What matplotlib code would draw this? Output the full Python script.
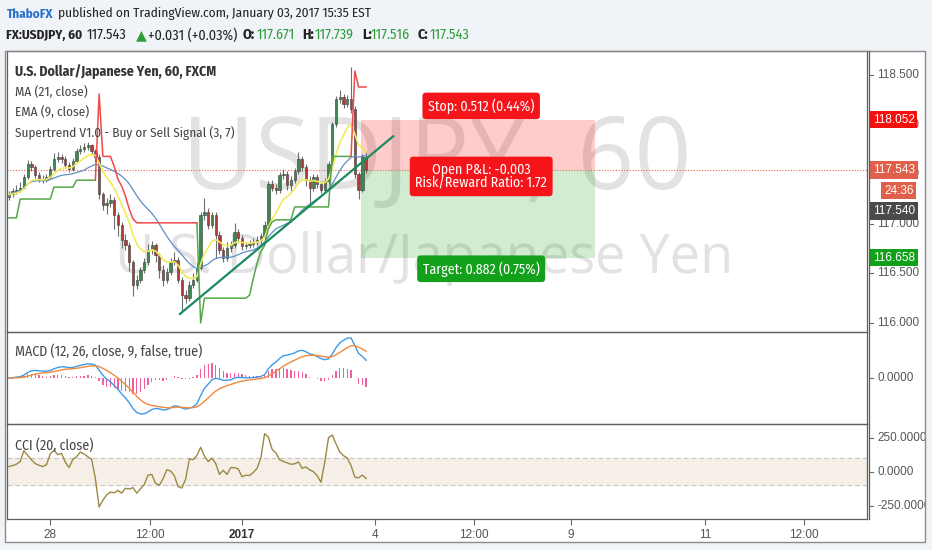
import numpy as np
import pandas as pd
import matplotlib.pyplot as plt
import matplotlib.transforms as mtrans
from matplotlib.patches import Rectangle

plt.rcParams['font.family'] = ['Fira Sans Condensed', 'Open Sans', 'DejaVu Sans']

# FX:USDJPY 60 min bars
opens = [117.270, 117.296, 117.326, 117.346, 117.366, 117.468, 117.599, 117.569, 117.488, 117.447,
         117.437, 117.468, 117.549, 117.650, 117.670, 117.650, 117.589, 117.549, 117.630, 117.731,
         117.751, 117.771, 117.792, 117.731, 117.670, 117.296, 117.194, 117.215, 117.245, 117.093,
         116.992, 116.840, 116.789, 116.617, 116.385, 116.435, 116.536, 116.617, 116.739, 116.789,
         116.688, 116.536, 116.435, 116.516, 116.617, 116.638, 116.435, 116.283, 116.253, 116.385,
         116.435, 116.557, 117.093, 117.124, 116.992, 117.093, 116.891, 116.739, 116.658, 116.759,
         116.789, 116.921, 116.860, 116.779, 116.789, 116.800, 116.820, 116.840, 116.881, 116.992,
         117.397, 117.366, 117.346, 117.488, 117.498, 117.387, 117.447, 117.528, 117.650, 117.569,
         117.447, 117.366, 117.468, 117.397, 117.346, 117.427, 117.599, 118.004, 118.257, 118.277,
         118.206, 118.257, 118.156, 117.498, 117.346, 117.671]
highs = [117.33, 117.36, 117.39, 117.42, 117.50, 117.64, 117.63, 117.59, 117.52, 117.49,
         117.50, 117.58, 117.71, 117.72, 117.70, 117.68, 117.62, 117.66, 117.76, 117.80,
         117.82, 117.83, 117.81, 117.75, 117.70, 117.32, 117.26, 117.30, 117.27, 117.12,
         117.02, 116.90, 116.82, 116.64, 116.48, 116.56, 116.66, 116.80, 116.83, 116.81,
         116.71, 116.58, 116.55, 116.66, 116.72, 116.67, 116.46, 116.33, 116.42, 116.50,
         116.62, 117.12, 117.26, 117.16, 117.12, 117.12, 116.93, 116.77, 116.82, 116.83,
         117.01, 116.95, 116.89, 116.82, 116.84, 116.86, 116.88, 116.91, 117.03, 117.43,
         117.44, 117.40, 117.52, 117.55, 117.53, 117.48, 117.56, 117.72, 117.68, 117.60,
         117.48, 117.50, 117.50, 117.43, 117.46, 117.63, 118.03, 118.29, 118.35, 118.31,
         118.30, 118.58, 118.19, 117.52, 117.70, 117.739]
lows = [117.24, 117.27, 117.30, 117.32, 117.35, 117.45, 117.53, 117.46, 117.42, 117.41,
        117.42, 117.45, 117.53, 117.62, 117.61, 117.56, 117.52, 117.53, 117.61, 117.70,
        117.72, 117.74, 117.70, 117.62, 117.25, 117.14, 117.10, 117.17, 116.95, 116.88,
        116.76, 116.74, 116.52, 116.27, 116.34, 116.40, 116.50, 116.58, 116.70, 116.62,
        116.45, 116.37, 116.40, 116.48, 116.58, 116.40, 116.11, 116.20, 116.22, 116.35,
        116.41, 116.53, 117.04, 116.95, 116.96, 116.66, 116.70, 116.61, 116.63, 116.72,
        116.76, 116.82, 116.74, 116.75, 116.76, 116.77, 116.79, 116.80, 116.85, 116.96,
        117.33, 117.30, 117.31, 117.45, 117.34, 117.33, 117.41, 117.50, 117.53, 117.38,
        117.20, 117.33, 117.36, 117.31, 117.32, 117.40, 117.57, 117.98, 118.22, 118.17,
        118.18, 118.12, 117.46, 117.25, 117.32, 117.516]
closes = [117.296, 117.326, 117.346, 117.366, 117.468, 117.599, 117.569, 117.488, 117.447, 117.437,
          117.468, 117.549, 117.650, 117.670, 117.650, 117.589, 117.549, 117.630, 117.731, 117.751,
          117.771, 117.792, 117.731, 117.670, 117.296, 117.194, 117.215, 117.245, 117.093, 116.992,
          116.840, 116.789, 116.617, 116.385, 116.435, 116.536, 116.617, 116.739, 116.789, 116.688,
          116.536, 116.435, 116.516, 116.617, 116.638, 116.435, 116.283, 116.253, 116.385, 116.435,
          116.557, 117.093, 117.124, 116.992, 117.093, 116.891, 116.739, 116.658, 116.759, 116.789,
          116.921, 116.860, 116.779, 116.789, 116.800, 116.820, 116.840, 116.881, 116.992, 117.397,
          117.366, 117.346, 117.488, 117.498, 117.387, 117.447, 117.528, 117.650, 117.569, 117.447,
          117.366, 117.468, 117.397, 117.346, 117.427, 117.599, 118.004, 118.257, 118.277, 118.206,
          118.257, 118.156, 117.498, 117.346, 117.671, 117.543]

# Supertrend (3, 7) levels, None where the other side is active
st_up = ([117.06] * 3 + [117.25] * 9 + [117.37] * 6 + [117.44] * 6 + [None] * 26
         + [117.01, 116.00] + [116.25] * 12
         + [116.28, 116.45, 116.60, 116.72, 116.78, 116.95, 117.02]
         + [117.04] * 5 + [117.17] * 10 + [117.68] * 6 + [None] * 4)
st_down = ([None] * 23 + [117.44, 118.31] + [117.68] * 3
           + [117.58, 117.45, 117.38, 117.28, 117.15, 117.05] + [117.01] * 17
           + [None] * 40 + [117.68, 118.54] + [118.38] * 3)

# CCI (20, close)
cci = [38, 45, 55, 74, 155, 120, 88, 60, 47, 38,
       52, 130, 158, 125, 135, 70, 30, 90, 110, 145,
       130, 110, 92, -50, -260, -210, -170, -150, -155, -138,
       -158, -122, -128, -117, -158, -125, -95, -25, -20, -85,
       -100, -52, 15, 5, -30, -110, -120, -55, 95, 88,
       120, 180, 115, 75, 100, 60, -20, 10, -20, 30,
       30, 20, -37, -26, -28, -5, 25, 100, 280, 255,
       165, 138, 88, 76, 65, 55, 58, 72, 25, 35,
       14, 0, -30, -78, 70, 250, 270, 205, 145, 118,
       100, 45, -40, -45, -25, -50]

trend_x = [45.5, 102.2]
trend_y = [116.091, 117.883]

entry_price = 117.543
stop_price = 118.052
target_price = 116.658
pos_start, pos_end = 93.6, 155.9
label_x = 125.6
last_bar_price = 117.540
timer_text = '24:36'

price_ticks = [118.5, 118.0, 117.5, 117.0, 116.5, 116.0]
xtick_pos = [10.9, 37.5, 62.0, 97.4, 123.7, 149.5, 185.1, 211.5]
xtick_labels = ['28', '12:00', '2017', '4', '12:00', '9', '11', '12:00']

# indicators
c = pd.Series(closes)
ema9 = c.ewm(span=9, adjust=False).mean()
ma21 = c.rolling(21, min_periods=1).mean()
macd = c.ewm(span=12, adjust=False).mean() - c.ewm(span=26, adjust=False).mean()
signal = macd.ewm(span=9, adjust=False).mean()
hist = macd - signal

W, H = 932, 550
fig = plt.figure(figsize=(W / 100, H / 100), dpi=100)
fig.patch.set_facecolor('#f0f3f8')


def fax(x0, y0, x1, y1, **kw):
    return fig.add_axes([x0 / W, 1 - y1 / H, (x1 - x0) / W, (y1 - y0) / H], **kw)


bg = fax(0, 0, W, H, zorder=-5)
bg.set_xlim(0, W); bg.set_ylim(H, 0); bg.axis('off')
bg.add_patch(Rectangle((5, 51), 920, 491, fc='white', ec='none'))
bg.text(437, 163, 'USDJPY, 60', fontsize=72, color='#e2e2e2', ha='center', va='center',
        family=['Open Sans', 'DejaVu Sans'])
bg.text(424, 259, 'U.S. Dollar/Japanese Yen', fontsize=39, color='#e2e2e2', ha='center', va='center',
        family=['Open Sans', 'DejaVu Sans'])

LEFT, RIGHT = 7, 867
ax = fax(LEFT, 51, RIGHT, 332)
ax_m = fax(LEFT, 332, RIGHT, 424, sharex=ax)
ax_c = fax(LEFT, 424, RIGHT, 519, sharex=ax)
for a in (ax, ax_m, ax_c):
    a.set_facecolor('none')
    for s in a.spines.values():
        s.set_color('#5e5e5e'); s.set_linewidth(0.9)
    a.tick_params(left=False, labelleft=False, bottom=False, labelbottom=False)
    a.set_yticks([])

x = np.arange(len(closes))
ax.set_xlim(-0.5, 228.2)
ax.set_ylim(115.909, 118.743)

o = np.array(opens); hi = np.array(highs); lo = np.array(lows); cl = np.array(closes)
up = cl >= o
ax.vlines(x, lo, hi, color='#6e6e6e', lw=0.8, zorder=3)
ax.bar(x, np.maximum(np.abs(cl - o), 0.008), bottom=np.minimum(o, cl), width=0.62,
       color=np.where(up, '#3a8a50', '#b03c36'), edgecolor='#3a3a3a', linewidth=0.4, zorder=4)

ax.plot(x, ma21, color='#5b8fc7', lw=0.9, zorder=5)
ax.plot(x, ema9, color='#f2ea5a', lw=1.2, zorder=5)
ax.plot(x, np.array(st_up, dtype=float), color='#55a84a', lw=1.1, zorder=5)
ax.plot(x, np.array(st_down, dtype=float), color='#ef4a4a', lw=1.1, zorder=5)
ax.plot(trend_x, trend_y, color='#1b8a5e', lw=1.6, zorder=6)

ax.axhline(entry_price, color='#e5694a', lw=0.8, ls=(0, (1, 1.5)), zorder=2)

ax.add_patch(Rectangle((pos_start, entry_price), pos_end - pos_start, stop_price - entry_price,
                       fc=(1, 0, 0, 0.2), ec='none', zorder=1))
ax.add_patch(Rectangle((pos_start, target_price), pos_end - pos_start, entry_price - target_price,
                       fc=(0, 0.6, 0, 0.18), ec='none', zorder=1))
box = dict(boxstyle='round,pad=0.4,rounding_size=0.25', ec='none')
ax.text(label_x, 118.189, 'Stop: 0.512 (0.44%)', color='white', fontsize=10, ha='center', va='center',
        bbox=dict(box, fc='#f5141a'), zorder=8)
ax.text(label_x, 117.478, 'Open P&L: -0.003\nRisk/Reward Ratio: 1.72', color='white', fontsize=10,
        ha='center', va='center', linespacing=1.0, bbox=dict(box, fc='#f5141a'), zorder=8)
ax.text(label_x, 116.547, 'Target: 0.882 (0.75%)', color='white', fontsize=10, ha='center', va='center',
        bbox=dict(box, fc='#13a01a'), zorder=8)

# MACD pane
L = 1.15 * np.nanmax(np.abs(macd))
ax_m.set_ylim(-L, L)
ax_m.bar(x, hist, width=0.35, color='#f0609e', zorder=2)
ax_m.plot(x, macd, color='#3d9ae8', lw=1.0, zorder=3)
ax_m.plot(x, signal, color='#f08a3c', lw=1.0, zorder=3)

# CCI pane
ax_c.set_ylim(-348, 351)
ax_c.axhspan(-100, 100, color='#f5efe7', zorder=0)
for v in (100, -100):
    ax_c.axhline(v, color='#c6c6c6', lw=0.8, ls=(0, (4, 3)), zorder=1)
ax_c.plot(x, cci, color='#9c8842', lw=1.0, zorder=3)
ax_c.set_xticks(xtick_pos, xtick_labels)
ax_c.tick_params(axis='x', bottom=True, labelbottom=True, length=4, color='#6b6b6b',
                 labelsize=8.5, labelcolor='#555555', pad=3)
for t in ax_c.get_xticklabels():
    t.set_family(['Liberation Sans', 'DejaVu Sans'])
    if t.get_text() == '2017':
        t.set_fontweight('bold'); t.set_color('#333333')

# right price scales
ax_ps = fax(869, 51, 925, 332)
ax_ms = fax(869, 332, 925, 424)
ax_cs = fax(869, 424, 925, 519)


def scale_labels(sax, dax, values, texts):
    sax.set_xlim(0, 56); sax.axis('off')
    tr = mtrans.blended_transform_factory(sax.transData, dax.transData)
    for v, s in zip(values, texts):
        sax.plot([0, 4], [v, v], transform=tr, color='#6b6b6b', lw=0.8)
        sax.text(8, v, s, transform=tr, fontsize=8.5, color='#555555', va='center', ha='left',
                 family=['Liberation Sans', 'DejaVu Sans'], clip_on=True, clip_box=sax.bbox)
    return tr


tr = scale_labels(ax_ps, ax, price_ticks, ['%.3f' % p for p in price_ticks])
scale_labels(ax_ms, ax_m, [0.0], ['0.0000'])
scale_labels(ax_cs, ax_c, [250, 0, -250], ['250.0000', '0.0000', '-250.0000'])


def price_box(y, s, fc, xpos=4, ha='left'):
    ax_ps.text(xpos, y, s, transform=tr, fontsize=8.5, color='white', va='center', ha=ha,
               family=['Liberation Sans', 'DejaVu Sans'],
               bbox=dict(boxstyle='square,pad=0.22', fc=fc, ec='none'), zorder=5)


price_box(stop_price, '%.3f' % stop_price, '#f51010')
price_box(entry_price, '%.3f' % entry_price, '#e0604c')
price_box(entry_price - 0.21, timer_text, '#e0604c', xpos=44.5, ha='right')
price_box(last_bar_price - 0.41, '%.3f' % last_bar_price, '#4a4a4a')
price_box(target_price, '%.3f' % target_price, '#12a01a')

# overlay: frame, header, legends
ov = fax(0, 0, W, H, zorder=10)
ov.set_xlim(0, W); ov.set_ylim(H, 0); ov.axis('off'); ov.patch.set_alpha(0)
ov.add_patch(Rectangle((5, 51), 920, 491, fill=False, ec='#8a8a8a', lw=1))
ov.plot([869, 869], [51, 519], color='#5e5e5e', lw=0.9)

G = '#2e9e3a'
K = '#222222'
header1 = [(7, 'ThaboFX', '#2a6fc9', 'bold', 9.4),
           (58, 'published on TradingView.com, January 03, 2017 15:35 EST', K, 'normal', 9.6)]
header2 = [(6, 'FX:USDJPY, 60', K, 'bold', 9.5), (87, '117.543', K, 'normal', 10.2),
           (136, '▲', G, 'normal', 10.2), (148, '+0.031 (+0.03%)', K, 'normal', 10.2),
           (243, 'O:', K, 'bold', 10.2), (257, '117.671', G, 'normal', 10.2),
           (302, 'H:', K, 'bold', 10.2), (315, '117.739', G, 'normal', 10.2),
           (362, 'L:', K, 'bold', 10.2), (371, '117.516', G, 'normal', 10.2),
           (418, 'C:', K, 'bold', 10.2), (430, '117.543', G, 'normal', 10.2)]
for hx, s, col, wt, fs in header1:
    ov.text(hx, 14, s, color=col, fontweight=wt, fontsize=fs, va='center', ha='left')
for hx, s, col, wt, fs in header2:
    ov.text(hx, 35, s, color=col, fontweight=wt, fontsize=fs, va='center', ha='left')

ov.text(15, 72, 'U.S. Dollar/Japanese Yen, 60, FXCM', fontsize=10, fontweight='bold', color='#333333', va='center')
for yy, s in [(92, 'MA (21, close)'), (112, 'EMA (9, close)'),
              (133, 'Supertrend V1.0 - Buy or Sell Signal (3, 7)')]:
    ov.text(15, yy, s, fontsize=9.5, color='#444444', va='center')
ov.text(15, 351, 'MACD (12, 26, close, 9, false, true)', fontsize=10, color='#444444', va='center')
ov.text(15, 445, 'CCI (20, close)', fontsize=10, color='#444444', va='center')

fig.savefig('out.png', dpi=100)
